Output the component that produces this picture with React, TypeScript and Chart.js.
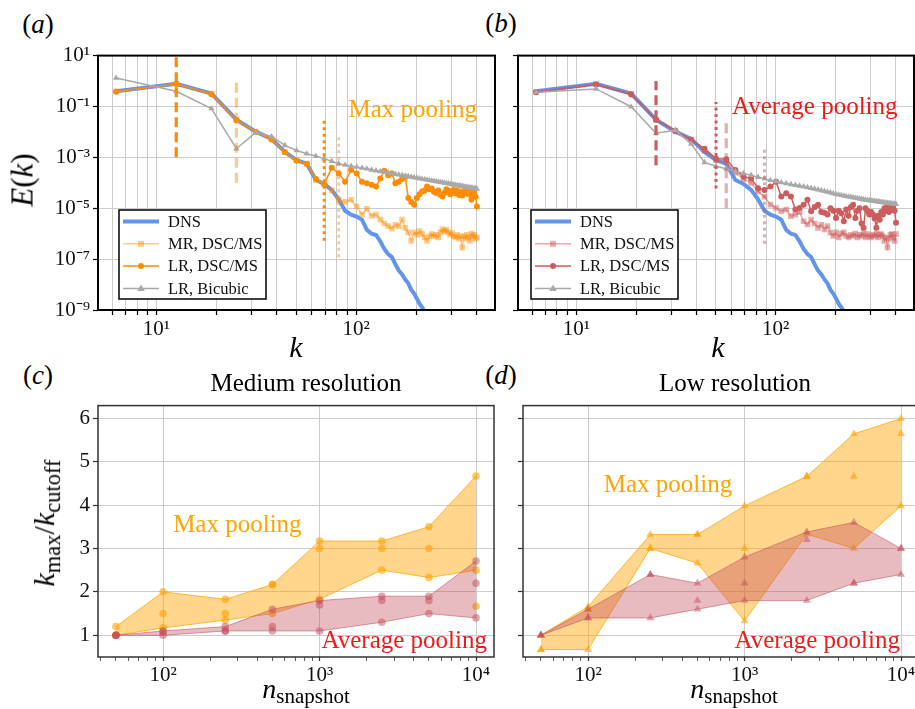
import React, { useEffect, useRef } from "react";
import { Chart, registerables } from "chart.js";

Chart.register(...registerables);

const SERIF = '"Liberation Serif", "Times New Roman", serif';

// ---------------- panels (a) and (b): energy spectra ----------------
const MODE_N = [
  1, 2, 3, 4, 5, 6, 7, 8, 9, 10, 11, 12, 13, 14, 15, 16, 17, 18, 19, 20, 21, 22, 23, 24, 25, 26, 27, 28, 29, 30, 31, 32,
  33, 34, 35, 36, 37, 38, 39, 40, 41, 42, 43, 44, 45, 46, 47, 48, 49, 50, 51, 52, 53, 54, 55, 56, 57, 58, 59, 60, 61, 62,
  63, 64,
];
const K_WAVE = MODE_N.map((n) => 2 * Math.PI * n);

// log10 E(k)
const DNS_LOG10 = [
  -0.4, -0.11, -0.49, -1.52, -1.99, -2.28, -2.79, -3.11, -3.25, -3.89,
  -4.05, -4.28, -4.65, -5.1, -5.25, -5.33, -5.45, -5.85, -6.0, -6.05,
  -6.3, -6.6, -6.8, -6.92, -7.2, -7.45, -7.6, -7.8, -7.95, -8.2,
  -8.35, -8.55, -8.75, -8.9, -9.05, -9.3, -9.5, -9.75,
];

const A_MR_LOG10 = [
  -0.4, -0.11, -0.49, -1.52, -1.99, -2.28, -2.79, -3.11, -3.25, -3.89,
  -4.05, -4.3, -4.67, -4.75, -4.67, -4.93, -5.25, -5.02, -5.3, -5.25,
  -5.45, -5.6, -5.7, -5.8, -5.65, -5.7, -5.45, -5.77, -5.95, -6.28,
  -5.96, -6.05, -5.9, -6.0, -6.15, -6.28, -6.1, -6.02, -6.1, -6.05,
  -6.15, -5.95, -5.83, -5.9, -5.85, -5.95, -6.05, -5.98, -6.1, -6.15,
  -6.05, -6.2, -6.1, -6.54, -6.1, -6.2, -6.05, -6.15, -6.28, -6.0,
  -6.1, -6.05, -6.2, -6.15,
];
const A_LR_LOG10 = [
  -0.42, -0.12, -0.52, -1.55, -2.0, -2.3, -2.8, -3.13, -3.25, -3.85,
  -4.06, -3.41, -3.63, -3.96, -3.5, -3.63, -3.96, -4.02, -4.08, -4.15,
  -3.83, -3.53, -3.7, -3.63, -4.02, -3.96, -3.85, -3.76, -4.6, -4.75,
  -4.86, -4.6, -4.45, -4.34, -4.3, -4.15, -4.25, -4.22, -4.35, -4.4,
  -4.3, -4.48, -4.54, -4.4, -4.25, -4.3, -4.45, -4.35, -4.28, -4.41,
  -4.3, -4.48, -4.35, -4.5, -4.4, -4.28, -4.37, -4.45, -4.3, -4.66,
  -4.4, -4.35, -4.55, -4.93,
];
const A_BICUBIC_LOG10 = [
  0.12, -0.4, -1.08, -2.66, -2.02, -2.18, -2.53, -2.73, -2.86, -2.95,
  -3.05, -3.15, -3.25, -3.3, -3.34, -3.38, -3.42, -3.45, -3.49, -3.52,
  -3.55, -3.58, -3.6, -3.63, -3.66, -3.68, -3.7, -3.73, -3.75, -3.77,
  -3.79, -3.81, -3.83, -3.85, -3.87, -3.88, -3.9, -3.92, -3.93, -3.95,
  -3.96, -3.98, -3.99, -4.01, -4.02, -4.03, -4.05, -4.06, -4.07, -4.09,
  -4.1, -4.11, -4.12, -4.13, -4.15, -4.16, -4.17, -4.18, -4.19, -4.2,
  -4.21, -4.22, -4.23, -4.24,
];

const B_MR_LOG10 = [
  -0.42, -0.12, -0.5, -1.53, -1.98, -2.3, -2.75, -3.1, -3.2, -3.6,
  -3.85, -4.0, -4.34, -4.55, -4.86, -4.99, -5.12, -5.05, -5.31, -5.25,
  -5.15, -5.51, -5.64, -5.45, -5.6, -5.77, -5.65, -5.83, -5.7, -5.96,
  -6.09, -5.95, -6.15, -6.0, -5.95, -6.09, -6.15, -6.05, -6.09, -6.0,
  -6.15, -6.05, -6.09, -5.98, -6.15, -6.02, -6.1, -6.15, -6.05, -6.09,
  -6.0, -6.15, -6.05, -6.02, -6.1, -6.28, -6.15, -6.54, -6.2, -6.05,
  -6.02, -6.15, -6.28, -6.02,
];
const B_LR_LOG10 = [
  -0.44, -0.14, -0.53, -1.52, -1.95, -2.31, -2.66, -3.05, -3.07, -3.5,
  -3.76, -3.83, -4.21, -4.28, -4.15, -3.96, -4.54, -4.41, -4.54, -5.05,
  -4.99, -4.86, -4.67, -5.12, -4.95, -4.86, -5.15, -5.18, -5.25, -5.0,
  -5.1, -5.38, -5.1, -5.2, -5.51, -5.05, -5.3, -4.95, -4.86, -5.38,
  -5.1, -5.0, -5.6, -5.77, -5.0, -5.1, -5.25, -5.15, -5.25, -5.4,
  -5.77, -5.3, -5.45, -5.15, -5.25, -5.0, -5.1, -4.95, -5.15, -4.99,
  -5.05, -4.99, -5.1, -5.57,
];
const B_BICUBIC_LOG10 = [
  -0.44, -0.31, -1.01, -2.05, -1.93, -2.47, -3.2, -3.35, -3.45, -3.55,
  -3.63, -3.7, -3.78, -3.84, -3.9, -3.95, -3.99, -4.03, -4.06, -4.09,
  -4.12, -4.15, -4.18, -4.21, -4.24, -4.27, -4.3, -4.33, -4.36, -4.39,
  -4.42, -4.45, -4.47, -4.49, -4.51, -4.53, -4.55, -4.56, -4.58, -4.6,
  -4.61, -4.63, -4.64, -4.66, -4.67, -4.68, -4.69, -4.7, -4.71, -4.72,
  -4.73, -4.74, -4.75, -4.76, -4.77, -4.78, -4.79, -4.8, -4.8, -4.81,
  -4.82, -4.83, -4.83, -4.84,
];

// cutoff / k_max markers: wavenumber, log10 of lower and upper end
const A_MARK_K = [12.57, 25.13, 69.12, 81.68];
const A_MARK_LOW = [-3.0, -4.0, -6.28, -6.93];
const A_MARK_HIGH = [1.0, 0.0, -1.5, -2.14];
const A_MARK_KIND = ["lr-dash", "mr-dash", "lr-dot", "mr-dot"];
const B_MARK_K = [25.13, 50.27, 56.55, 87.96];
const B_MARK_LOW = [-3.31, -4.22, -5.0, -6.4];
const B_MARK_HIGH = [0.0, -0.82, -1.6, -2.63];
const B_MARK_KIND = ["lr-dash", "lr-dot", "mr-dash", "mr-dot"];

const SPEC_X_TICKS = [6, 7, 8, 9, 10, 20, 30, 40, 50, 60, 70, 80, 90, 100, 200, 300, 400];
const SPEC_X_LABELS: Record<number, string> = { 10: "10¹", 100: "10²" };
const SPEC_Y_TICKS = [1e1, 1e-1, 1e-3, 1e-5, 1e-7, 1e-9];
const SPEC_Y_LABELS = ["10¹", "10⁻¹", "10⁻³", "10⁻⁵", "10⁻⁷", "10⁻⁹"];

// ---------------- panels (c) and (d): k_max / k_cutoff ----------------
const N_SNAPSHOT = [50, 100, 250, 500, 1000, 2500, 5000, 10000];
const C_MAX_RUN1 = [1.2, 2.0, 1.83, 2.17, 3.17, 3.17, 3.5, 4.67];
const C_MAX_RUN2 = [1.0, 1.17, 1.35, 1.5, 1.83, 2.5, 2.33, 2.5];
const C_MAX_RUN3 = [1.0, 1.5, 1.5, 2.17, 3.0, 3.0, 3.0, 1.67];
const C_AVG_RUN1 = [1.0, 1.1, 1.2, 1.6, 1.8, 1.9, 1.9, 2.71];
const C_AVG_RUN2 = [1.0, 1.0, 1.1, 1.1, 1.1, 1.3, 1.5, 1.4];
const C_AVG_RUN3 = [1.0, 1.08, 1.1, 1.2, 1.7, 1.8, 1.8, 2.2];
const D_MAX_RUN1 = [1.0, 1.66, 3.32, 3.32, 3.98, 4.66, 5.64, 5.99];
const D_MAX_RUN2 = [0.67, 0.67, 3.0, 2.66, 1.33, 3.33, 3.0, 3.98];
const D_MAX_RUN3 = [0.67, 1.6, 3.0, 3.32, 3.0, 4.66, 4.66, 5.64];
const D_AVG_RUN1 = [1.0, 1.6, 2.4, 2.2, 2.8, 3.38, 3.6, 3.0];
const D_AVG_RUN2 = [1.0, 1.4, 1.4, 1.6, 1.8, 1.8, 2.2, 2.4];
const D_AVG_RUN3 = [1.0, 1.4, 2.4, 1.8, 2.2, 3.2, 2.2, 3.0];

const RATIO_X_TICKS = [
  40, 50, 60, 70, 80, 90, 100, 200, 300, 400, 500, 600, 700, 800, 900, 1000, 2000, 3000, 4000, 5000, 6000, 7000,
  8000, 9000, 10000,
];
const RATIO_X_LABELS: Record<number, string> = { 100: "10²", 1000: "10³", 10000: "10⁴" };
const RATIO_Y_TICKS = [1, 2, 3, 4, 5, 6];

// ---------------- colours ----------------
const DNS_BLUE = "#6495ED";
const GRAY = "#A9A9A9";
const ORANGE_DARK = "#FF8C00";
const ORANGE_LIGHT = "rgba(255,140,0,0.45)";
const RED_DARK = "#CD5C5C";
const RED_LIGHT = "rgba(205,92,92,0.5)";
const MAX_TEXT = "#FFA500";
const AVG_TEXT = "#EE1B1B";
const MAX_FILL = "rgba(255,165,0,0.45)";
const MAX_EDGE = "rgba(255,165,0,0.75)";
const MAX_PT = "rgba(255,160,0,0.6)";
const AVG_FILL = "rgba(195,75,90,0.38)";
const AVG_EDGE = "rgba(195,75,90,0.55)";
const AVG_PT = "rgba(195,75,90,0.5)";
const GRID = "#cccccc";

// ---------------- plugins ----------------
function framePlugin(color: string, width: number) {
  return {
    id: "frame",
    afterDraw(chart: any) {
      const { ctx, chartArea: a } = chart;
      ctx.save();
      ctx.strokeStyle = color;
      ctx.lineWidth = width;
      ctx.strokeRect(a.left, a.top, a.right - a.left, a.bottom - a.top);
      ctx.restore();
    },
  };
}

type Note = { text: string; x: number; y: number; color: string };
function notesPlugin(notes: Note[]) {
  return {
    id: "notes",
    afterDatasetsDraw(chart: any) {
      const { ctx, scales } = chart;
      ctx.save();
      ctx.font = `25px ${SERIF}`;
      ctx.textAlign = "left";
      ctx.textBaseline = "alphabetic";
      notes.forEach((n) => {
        ctx.fillStyle = n.color;
        ctx.fillText(n.text, scales.x.getPixelForValue(n.x), scales.y.getPixelForValue(n.y));
      });
      ctx.restore();
    },
  };
}

function drawMarker(ctx: CanvasRenderingContext2D, kind: string, x: number, y: number, color: string) {
  ctx.fillStyle = color;
  ctx.beginPath();
  if (kind === "circle") ctx.arc(x, y, 3, 0, Math.PI * 2);
  else if (kind === "rect") ctx.rect(x - 3, y - 3, 6, 6);
  else if (kind === "triangle") {
    ctx.moveTo(x, y - 4);
    ctx.lineTo(x + 3.8, y + 2.6);
    ctx.lineTo(x - 3.8, y + 2.6);
    ctx.closePath();
  }
  if (kind !== "none") ctx.fill();
}

type LegendItem = { label: string; color: string; width: number; marker: string };
function legendPlugin(items: LegendItem[], dx: number, bottomGap: number) {
  return {
    id: "specLegend",
    afterDatasetsDraw(chart: any) {
      const { ctx, chartArea: a } = chart;
      const w = 147;
      const h = 89;
      const x0 = a.left + dx;
      const y0 = a.bottom - bottomGap - h;
      ctx.save();
      ctx.fillStyle = "#ffffff";
      ctx.fillRect(x0, y0, w, h);
      ctx.strokeStyle = "#000";
      ctx.lineWidth = 1.5;
      ctx.strokeRect(x0, y0, w, h);
      ctx.font = `16.5px ${SERIF}`;
      ctx.textAlign = "left";
      ctx.textBaseline = "middle";
      items.forEach((it, i) => {
        const cy = y0 + 11.5 + i * 22.3;
        ctx.strokeStyle = it.color;
        ctx.lineWidth = it.width;
        ctx.beginPath();
        ctx.moveTo(x0 + 4, cy);
        ctx.lineTo(x0 + 40, cy);
        ctx.stroke();
        drawMarker(ctx, it.marker, x0 + 22, cy, it.color);
        ctx.fillStyle = "#111";
        ctx.fillText(it.label, x0 + 49, cy + 1);
      });
      ctx.restore();
    },
  };
}

// ---------------- configs ----------------
const tickFont = { family: SERIF, size: 21 };

function spectrumConfig(o: {
  mr: number[];
  lr: number[];
  bic: number[];
  lrColor: string;
  mrColor: string;
  markK: number[];
  markLow: number[];
  markHigh: number[];
  markKind: string[];
  yLabels: boolean;
  yWidth: number;
  padRight: number;
  legendDx: number;
  note: Note;
}) {
  const pts = (logs: number[]) => logs.map((v, i) => ({ x: K_WAVE[i], y: Math.pow(10, v) }));
  const marks = o.markK.map((k, i) => {
    const kind = o.markKind[i];
    const dark = kind.startsWith("lr");
    const dotted = kind.endsWith("dot");
    return {
      label: "mark" + i,
      data: [
        { x: k, y: Math.pow(10, o.markLow[i]) },
        { x: k, y: Math.pow(10, o.markHigh[i]) },
      ],
      borderColor: dark ? o.lrColor : o.mrColor,
      borderWidth: dotted ? 3 : 3.2,
      borderDash: dotted ? [3, 3.5] : [10, 5],
      pointRadius: 0,
      order: 0,
    };
  });
  return {
    type: "line",
    data: {
      datasets: [
        { label: "DNS", data: pts(DNS_LOG10), borderColor: DNS_BLUE, borderWidth: 4, pointRadius: 0, order: 4 },
        {
          label: "MR, DSC/MS",
          data: pts(o.mr),
          borderColor: o.mrColor,
          borderWidth: 1.5,
          pointStyle: "rect",
          pointRadius: 4,
          pointBackgroundColor: o.mrColor,
          pointBorderWidth: 0,
          order: 3,
        },
        {
          label: "LR, DSC/MS",
          data: pts(o.lr),
          borderColor: o.lrColor,
          borderWidth: 1.5,
          pointStyle: "circle",
          pointRadius: 3,
          pointBackgroundColor: o.lrColor,
          pointBorderWidth: 0,
          order: 2,
        },
        {
          label: "LR, Bicubic",
          data: pts(o.bic),
          borderColor: GRAY,
          borderWidth: 1.5,
          pointStyle: "triangle",
          pointRadius: 3.6,
          pointBackgroundColor: GRAY,
          pointBorderWidth: 0,
          order: 1,
        },
        ...marks,
      ],
    },
    options: {
      animation: false,
      responsive: false,
      events: [],
      layout: { autoPadding: false, padding: { top: 12, right: o.padRight, left: 0, bottom: 0 } },
      plugins: { legend: { display: false }, tooltip: { enabled: false }, title: { display: false } },
      scales: {
        x: {
          type: "logarithmic",
          min: 5.1,
          max: 495,
          afterBuildTicks: (s: any) => {
            s.ticks = SPEC_X_TICKS.map((v) => ({ value: v }));
          },
          afterFit: (s: any) => {
            s.height = 30;
          },
          ticks: {
            autoSkip: false,
            maxRotation: 0,
            minRotation: 0,
            padding: 2,
            color: "#111",
            font: tickFont,
            callback: (v: any) => SPEC_X_LABELS[Number(v)] ?? "",
          },
          grid: { color: GRID, lineWidth: 1, tickLength: 5, tickColor: "#000", tickWidth: 1.2 },
          border: { display: false },
        },
        y: {
          type: "logarithmic",
          min: 1e-9,
          max: 10,
          afterBuildTicks: (s: any) => {
            s.ticks = SPEC_Y_TICKS.map((v) => ({ value: v }));
          },
          afterFit: (s: any) => {
            s.width = o.yWidth;
          },
          ticks: {
            autoSkip: false,
            padding: 3,
            color: "#111",
            font: tickFont,
            callback: (v: any) => {
              if (!o.yLabels) return "";
              const e = Math.round(Math.log10(Number(v)));
              const idx = SPEC_Y_TICKS.findIndex((t) => Math.round(Math.log10(t)) === e);
              return idx >= 0 ? SPEC_Y_LABELS[idx] : "";
            },
          },
          grid: { color: GRID, lineWidth: 1, tickLength: 5, tickColor: "#000", tickWidth: 1.2 },
          border: { display: false },
        },
      },
    },
    plugins: [
      notesPlugin([o.note]),
      legendPlugin(
        [
          { label: "DNS", color: DNS_BLUE, width: 4, marker: "none" },
          { label: "MR, DSC/MS", color: o.mrColor, width: 1.5, marker: "rect" },
          { label: "LR, DSC/MS", color: o.lrColor, width: 1.5, marker: "circle" },
          { label: "LR, Bicubic", color: GRAY, width: 1.5, marker: "triangle" },
        ],
        o.legendDx,
        11
      ),
      framePlugin("#000", 2),
    ],
  };
}

function ratioConfig(o: {
  max: number[][];
  avg: number[][];
  marker: string;
  radius: number;
  yLabels: boolean;
  yWidth: number;
  padRight: number;
  notes: Note[];
}) {
  const pts = (vals: number[]) => vals.map((v, i) => ({ x: N_SNAPSHOT[i], y: v }));
  const pt = (color: string) => ({
    pointStyle: o.marker,
    pointRadius: o.radius,
    pointBackgroundColor: color,
    pointBorderWidth: 0,
  });
  return {
    type: "line",
    data: {
      datasets: [
        { data: pts(o.max[0]), fill: "+1", backgroundColor: MAX_FILL, borderColor: MAX_EDGE, borderWidth: 1, ...pt(MAX_PT), order: 6 },
        { data: pts(o.max[1]), fill: false, borderColor: MAX_EDGE, borderWidth: 1, ...pt(MAX_PT), order: 5 },
        { data: pts(o.max[2]), fill: false, showLine: false, ...pt(MAX_PT), order: 5 },
        { data: pts(o.avg[0]), fill: "+1", backgroundColor: AVG_FILL, borderColor: AVG_EDGE, borderWidth: 1, ...pt(AVG_PT), order: 4 },
        { data: pts(o.avg[1]), fill: false, borderColor: AVG_EDGE, borderWidth: 1, ...pt(AVG_PT), order: 3 },
        { data: pts(o.avg[2]), fill: false, showLine: false, ...pt(AVG_PT), order: 3 },
      ],
    },
    options: {
      animation: false,
      responsive: false,
      events: [],
      layout: { autoPadding: false, padding: { top: 10, right: o.padRight, left: 0, bottom: 0 } },
      plugins: { legend: { display: false }, tooltip: { enabled: false }, title: { display: false } },
      scales: {
        x: {
          type: "logarithmic",
          min: 38.4,
          max: 13030,
          afterBuildTicks: (s: any) => {
            s.ticks = RATIO_X_TICKS.map((v) => ({ value: v }));
          },
          afterFit: (s: any) => {
            s.height = 33;
          },
          ticks: {
            autoSkip: false,
            maxRotation: 0,
            minRotation: 0,
            padding: 2,
            color: "#111",
            font: tickFont,
            callback: (v: any) => RATIO_X_LABELS[Number(v)] ?? "",
          },
          grid: {
            color: (c: any) => (c.tick && RATIO_X_LABELS[c.tick.value] ? GRID : "rgba(0,0,0,0)"),
            lineWidth: 1,
            tickLength: 4,
            tickColor: "#333",
            tickWidth: (c: any) => (c.tick && RATIO_X_LABELS[c.tick.value] ? 1.2 : 0.8),
          },
          border: { display: false },
        },
        y: {
          type: "linear",
          min: 0.5,
          max: 6.29,
          afterBuildTicks: (s: any) => {
            s.ticks = RATIO_Y_TICKS.map((v) => ({ value: v }));
          },
          afterFit: (s: any) => {
            s.width = o.yWidth;
          },
          ticks: {
            autoSkip: false,
            padding: 3,
            color: "#111",
            font: tickFont,
            callback: (v: any) => (o.yLabels ? String(v) : ""),
          },
          grid: { color: GRID, lineWidth: 1, tickLength: 5, tickColor: "#333", tickWidth: 1.2 },
          border: { display: false },
        },
      },
    },
    plugins: [notesPlugin(o.notes), framePlugin("#333", 1.5)],
  };
}

// ---------------- components ----------------
function ChartCanvas(props: { left: number; top: number; width: number; height: number; build: () => any }) {
  const ref = useRef<HTMLCanvasElement | null>(null);
  useEffect(() => {
    if (!ref.current) return;
    const chart = new Chart(ref.current, props.build());
    return () => chart.destroy();
  }, []);
  return (
    <canvas
      ref={ref}
      width={props.width}
      height={props.height}
      style={{ position: "absolute", left: props.left, top: props.top, width: props.width, height: props.height }}
    />
  );
}

function Text(props: { x: number; y: number; size: number; rotate?: boolean; children: React.ReactNode; color?: string }) {
  return (
    <div
      style={{
        position: "absolute",
        left: props.x,
        top: props.y,
        fontFamily: SERIF,
        fontSize: props.size,
        color: props.color ?? "#000",
        whiteSpace: "nowrap",
        lineHeight: 1,
        transform: `translate(-50%, -50%)${props.rotate ? " rotate(-90deg)" : ""}`,
      }}
    >
      {props.children}
    </div>
  );
}

const subStyle: React.CSSProperties = { fontStyle: "normal", fontSize: "0.75em", verticalAlign: "-0.28em" };

export default function App() {
  return (
    <div
      style={{
        position: "absolute",
        left: 0,
        top: 0,
        width: 915,
        height: 709,
        overflow: "hidden",
        background: "#ffffff",
      }}
    >
      <ChartCanvas
        left={0}
        top={40}
        width={500}
        height={300}
        build={() =>
          spectrumConfig({
            mr: A_MR_LOG10,
            lr: A_LR_LOG10,
            bic: A_BICUBIC_LOG10,
            lrColor: ORANGE_DARK,
            mrColor: ORANGE_LIGHT,
            markK: A_MARK_K,
            markLow: A_MARK_LOW,
            markHigh: A_MARK_HIGH,
            markKind: A_MARK_KIND,
            yLabels: true,
            yWidth: 98,
            padRight: 5,
            legendDx: 21,
            note: { text: "Max pooling", x: 91.4, y: Math.pow(10, -1.43), color: MAX_TEXT },
          })
        }
      />
      <ChartCanvas
        left={500}
        top={40}
        width={415}
        height={300}
        build={() =>
          spectrumConfig({
            mr: B_MR_LOG10,
            lr: B_LR_LOG10,
            bic: B_BICUBIC_LOG10,
            lrColor: RED_DARK,
            mrColor: RED_LIGHT,
            markK: B_MARK_K,
            markLow: B_MARK_LOW,
            markHigh: B_MARK_HIGH,
            markKind: B_MARK_KIND,
            yLabels: false,
            yWidth: 18,
            padRight: 1,
            legendDx: 13,
            note: { text: "Average pooling", x: 60.5, y: Math.pow(10, -1.28), color: AVG_TEXT },
          })
        }
      />
      <ChartCanvas
        left={0}
        top={390}
        width={500}
        height={300}
        build={() =>
          ratioConfig({
            max: [C_MAX_RUN1, C_MAX_RUN2, C_MAX_RUN3],
            avg: [C_AVG_RUN1, C_AVG_RUN2, C_AVG_RUN3],
            marker: "circle",
            radius: 3.8,
            yLabels: true,
            yWidth: 98,
            padRight: 6,
            notes: [
              { text: "Max pooling", x: 116, y: 3.39, color: MAX_TEXT },
              { text: "Average pooling", x: 1030, y: 0.71, color: AVG_TEXT },
            ],
          })
        }
      />
      <ChartCanvas
        left={500}
        top={390}
        width={425}
        height={300}
        build={() =>
          ratioConfig({
            max: [D_MAX_RUN1, D_MAX_RUN2, D_MAX_RUN3],
            avg: [D_AVG_RUN1, D_AVG_RUN2, D_AVG_RUN3],
            marker: "triangle",
            radius: 4.6,
            yLabels: false,
            yWidth: 23,
            padRight: 6,
            notes: [
              { text: "Max pooling", x: 126, y: 4.29, color: MAX_TEXT },
              { text: "Average pooling", x: 863, y: 0.7, color: AVG_TEXT },
            ],
          })
        }
      />

      <Text x={38} y={24} size={27}>
        (<i>a</i>)
      </Text>
      <Text x={501} y={23} size={27}>
        (<i>b</i>)
      </Text>
      <Text x={38} y={375} size={27}>
        (<i>c</i>)
      </Text>
      <Text x={501} y={375} size={27}>
        (<i>d</i>)
      </Text>

      <Text x={22} y={180} size={31} rotate>
        <i>E</i>(<i>k</i>)
      </Text>
      <Text x={296} y={347} size={30}>
        <i>k</i>
      </Text>
      <Text x={718} y={347} size={30}>
        <i>k</i>
      </Text>

      <Text x={306} y={382} size={25}>
        Medium resolution
      </Text>
      <Text x={735} y={382} size={25}>
        Low resolution
      </Text>

      <Text x={47} y={523} size={30} rotate>
        <i>k</i>
        <span style={subStyle}>max</span>/<i>k</i>
        <span style={subStyle}>cutoff</span>
      </Text>
      <Text x={306} y={691} size={28}>
        <i>n</i>
        <span style={subStyle}>snapshot</span>
      </Text>
      <Text x={734} y={691} size={28}>
        <i>n</i>
        <span style={subStyle}>snapshot</span>
      </Text>
    </div>
  );
}
